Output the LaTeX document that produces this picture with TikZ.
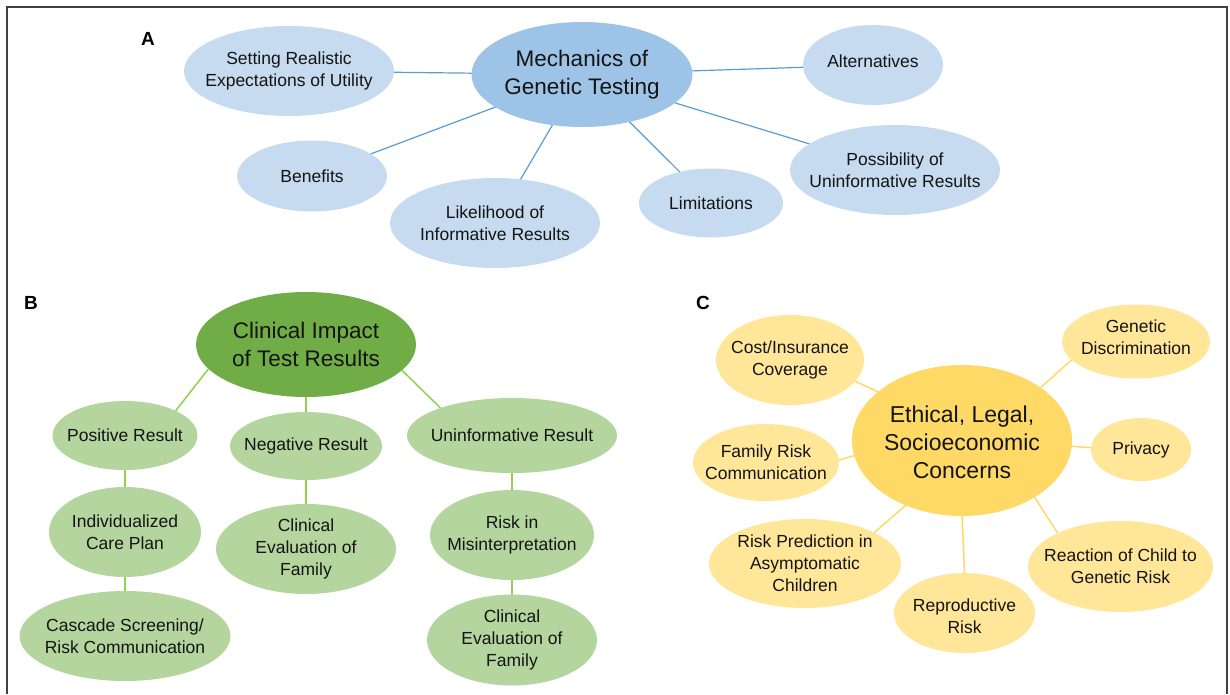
\documentclass[tikz,border=0pt]{standalone}
\usepackage{fontspec}
\setmainfont{Liberation Sans}
\usetikzlibrary{shapes.geometric}
\definecolor{ink}{HTML}{141414}
\definecolor{framec}{HTML}{404040}
\definecolor{bluemain}{HTML}{9DC3E6}
\definecolor{bluelight}{HTML}{C6DBEF}
\definecolor{blueline}{HTML}{5B9BD5}
\definecolor{greenmain}{HTML}{70AD47}
\definecolor{greenlight}{HTML}{B4D59D}
\definecolor{greenline}{HTML}{92D050}
\definecolor{goldmain}{HTML}{FFD966}
\definecolor{goldlight}{HTML}{FFE699}
\definecolor{goldline}{HTML}{FFD966}
\begin{document}
\begin{tikzpicture}[x=1pt,y=-1pt,
  bub/.style={ellipse, inner sep=0pt, outer sep=0pt, draw=none},
  bA/.style={bub, fill=bluelight},
  bB/.style={bub, fill=greenlight},
  bC/.style={bub, fill=goldlight},
  txt/.style={align=center, font=\fontsize{17.5}{22}\selectfont, text=ink, inner sep=0pt},
  big/.style={align=center, font=\fontsize{22.5}{28}\selectfont, text=ink, inner sep=0pt},
  lab/.style={font=\fontsize{19}{22}\selectfont\bfseries, text=black, inner sep=0pt},
  lA/.style={draw=blueline, line width=1.2pt},
  lB/.style={draw=greenline, line width=1.5pt},
  lC/.style={draw=goldline, line width=1.5pt},
  framestyle/.style={draw=framec, line width=1.8pt}
]
\useasboundingbox (0,0) rectangle (1230,694);
\draw[framestyle] (7,694) -- (7,7) -- (1227,7) -- (1227,694);

% ---------------- Panel A ----------------
\node[lab] (labA) at (148,39) {A};
\node[bub, fill=bluemain, minimum width=221, minimum height=105] (mech) at (582,74.5) {};
\node[bA, minimum width=210, minimum height=90] (set) at (289,71) {};
\node[bA, minimum width=140, minimum height=80] (alt) at (873,65) {};
\node[bA, minimum width=150, minimum height=71] (ben) at (312,176) {};
\node[bA, minimum width=210, minimum height=90] (lik) at (495,223) {};
\node[bA, minimum width=144, minimum height=69] (lim) at (711,203) {};
\node[bA, minimum width=210, minimum height=90] (pos) at (895,170) {};

\node[big] (t-mech) at (mech.center) {Mechanics of\\Genetic Testing};
\node[txt] (t-set) at (set.center) {Setting Realistic\\Expectations of Utility};
\node[txt, yshift=4pt] (t-alt) at (alt.center) {Alternatives};
\node[txt] (t-ben) at (ben.center) {Benefits};
\node[txt] (t-lik) at (lik.center) {Likelihood of\\Informative Results};
\node[txt] (t-lim) at (lim.center) {Limitations};
\node[txt] (t-pos) at (pos.center) {Possibility of\\Uninformative Results};

\draw[lA] (set) -- (mech);
\draw[lA] (mech) -- (alt);
\draw[lA] (ben) -- (mech);
\draw[lA] (lik) -- (mech);
\draw[lA] (lim) -- (mech);
\draw[lA] (pos) -- (mech);

% ---------------- Panel B ----------------
\node[lab] (labB) at (31,303) {B};
\node[bub, fill=greenmain, minimum width=220, minimum height=105] (clin) at (306,344.5) {};
\node[bB, minimum width=145, minimum height=69] (posr) at (125,435.5) {};
\node[bB, minimum width=152, minimum height=68] (negr) at (306,446) {};
\node[bB, minimum width=210, minimum height=75] (unir) at (512,435.5) {};
\node[bB, minimum width=152, minimum height=90] (ind) at (125,532) {};
\node[bB, minimum width=180, minimum height=90] (cen) at (306,549) {};
\node[bB, minimum width=164, minimum height=90] (mis) at (512,535) {};
\node[bB, minimum width=211, minimum height=90] (cas) at (125,636) {};
\node[bB, minimum width=170, minimum height=91] (ceu) at (512,640) {};

\node[big] (t-clin) at (clin.center) {Clinical Impact\\of Test Results};
\node[txt] (t-posr) at (posr.center) {Positive Result};
\node[txt] (t-negr) at (negr.center) {Negative Result};
\node[txt] (t-unir) at (unir.center) {Uninformative Result};
\node[txt] (t-ind) at (ind.center) {Individualized\\Care Plan};
\node[txt] (t-cen) at (cen.center) {Clinical\\Evaluation of\\Family};
\node[txt] (t-mis) at (mis.center) {Risk in\\Misinterpretation};
\node[txt] (t-cas) at (cas.center) {Cascade Screening/\\Risk Communication};
\node[txt] (t-ceu) at (ceu.center) {Clinical\\Evaluation of\\Family};

\draw[lB] (clin.194.7) -- (posr.26.8);
\draw[lB] (clin.south) -- (negr.north);
\draw[lB] (clin.-15.8) -- (unir.159.4);
\draw[lB] (posr.south) -- (ind.north);
\draw[lB] (ind.south) -- (cas.north);
\draw[lB] (negr.south) -- (cen.north);
\draw[lB] (unir.south) -- (mis.north);
\draw[lB] (mis.south) -- (ceu.north);

% ---------------- Panel C ----------------
\node[lab] (labC) at (703,303) {C};
\node[bub, fill=goldmain, minimum width=220, minimum height=151] (eth) at (962,440.5) {};
\node[bC, minimum width=148, minimum height=90] (cost) at (790,360) {};
\node[bC, minimum width=148, minimum height=74] (gen) at (1136,341.5) {};
\node[bC, minimum width=146, minimum height=77] (fam) at (766,462.5) {};
\node[bC, minimum width=100, minimum height=63] (priv) at (1141,449.5) {};
\node[bC, minimum width=192, minimum height=89] (rp) at (805,563.5) {};
\node[bC, minimum width=141, minimum height=80] (rep) at (964.5,613) {};
\node[bC, minimum width=185, minimum height=91] (rea) at (1120.5,566.5) {};

\node[big, font=\fontsize{23}{28}\selectfont] (t-eth) at ([yshift=-2pt]eth.center) {Ethical, Legal,\\Socioeconomic\\Concerns};
\node[txt] (t-cost) at (cost.center) {Cost/Insurance\\Coverage};
\node[txt, yshift=4pt] (t-gen) at (gen.center) {Genetic\\Discrimination};
\node[txt] (t-fam) at (fam.center) {Family Risk\\Communication};
\node[txt] (t-priv) at (priv.center) {Privacy};
\node[txt] (t-rp) at (rp.center) {Risk Prediction in\\Asymptomatic\\Children};
\node[txt] (t-rep) at ([yshift=-3pt]rep.center) {Reproductive\\Risk};
\node[txt] (t-rea) at (rea.center) {Reaction of Child to\\Genetic Risk};

\draw[lC] (cost.-18.7) -- (eth.150.3);
\draw[lC] (gen.196.1) -- (eth.34.9);
\draw[lC] (fam.2) -- (eth.188.2);
\draw[lC] (priv.178) -- (eth.-3.9);
\draw[lC] (rp.24.2) -- (eth.229.4);
\draw[lC] (rep.north) -- (eth.south);
\draw[lC] (rea.152.9) -- (eth.-38.2);
\end{tikzpicture}
\end{document}
